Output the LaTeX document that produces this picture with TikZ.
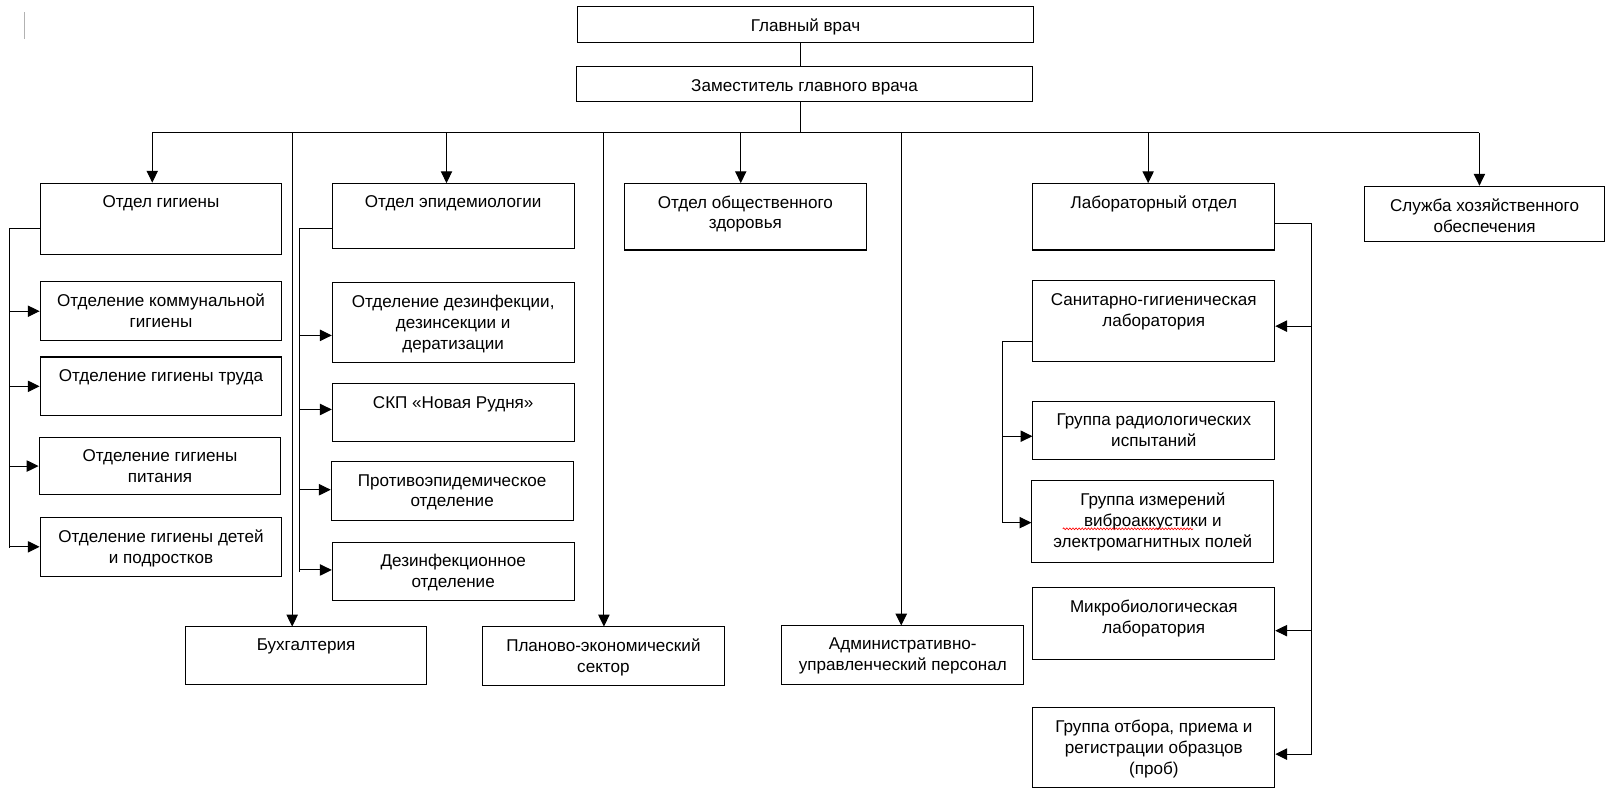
\documentclass[tikz,border=0pt]{standalone}
\usepackage{fontspec}
\setmainfont{Liberation Sans}
\usetikzlibrary{arrows.meta,decorations.pathmorphing}
\tikzset{
  box/.style={draw, line width=1pt, inner sep=0pt, fill=white},
  lbl/.style={anchor=north, align=center, inner sep=0pt, font=\fontsize{16.6}{20.3}\selectfont},
  ln/.style={line width=1pt, black},
  arr/.style={ln, -{Triangle[length=11.5pt,width=11pt]}},
}
\newcommand\obox[6]{%
  \node[box, minimum width={#4-#2}, minimum height={#5-#3}] (#1) at ({(#2+#4)/2},{(#3+#5)/2}) {};
  \node[lbl] (#1t) at ([yshift=-12.3pt]#1.north) {#6};}
\begin{document}
\begin{tikzpicture}[x=1pt,y=-1pt]
\useasboundingbox (0,0) rectangle (1568.8,770.8);
\fill[white] (0,0) rectangle (1568.8,770.8);
\draw[gray!60, line width=0.8pt] (24,12) -- (24,38);
% top
\obox{gv}{561}{6}{1005}{41}{Главный врач}
\obox{zam}{560}{65}{1004}{99}{Заместитель главного врача}
% departments
\obox{og}{39}{178}{274}{247}{Отдел гигиены}
\obox{oe}{323}{178}{558}{242}{Отдел эпидемиологии}
\obox{oz}{607}{178}{842}{243}{Отдел общественного\\здоровья}
\obox{lab}{1004}{178}{1239}{243}{Лабораторный отдел}
\obox{sl}{1326}{181}{1560}{235}{Служба хозяйственного\\обеспечения}
% hygiene
\obox{k1}{39}{274}{274}{331}{Отделение коммунальной\\гигиены}
\obox{k2}{39}{347}{274}{404}{Отделение гигиены труда}
\obox{k3}{38}{425}{273}{481}{Отделение гигиены\\питания}
\obox{k4}{39}{503}{274}{560}{Отделение гигиены детей\\и подростков}
% epidemiology
\obox{e1}{323}{275}{558}{352}{Отделение дезинфекции,\\дезинсекции и\\дератизации}
\obox{e2}{323}{373}{558}{429}{СКП «Новая Рудня»}
\obox{e3}{322}{449}{557}{506}{Противоэпидемическое\\отделение}
\obox{e4}{323}{527}{558}{584}{Дезинфекционное\\отделение}
% bottom
\obox{bu}{180}{609}{415}{665}{Бухгалтерия}
\obox{pl}{469}{609}{704}{666}{Планово-экономический\\сектор}
\obox{ad}{760}{608}{995}{665}{Административно-\\управленческий персонал}
% lab
\obox{sg}{1004}{273}{1239}{351}{Санитарно-гигиеническая\\лаборатория}
\obox{rg}{1004}{390}{1239}{447}{Группа радиологических\\испытаний}
\obox{vm}{1003}{467}{1238}{547}{Группа измерений\\виброаккустики и\\электромагнитных полей}
\obox{mb}{1004}{571}{1239}{641}{Микробиологическая\\лаборатория}
\obox{go}{1004}{688}{1239}{765}{Группа отбора, приема и\\регистрации образцов\\(проб)}
\draw[red, line width=0.6pt, decorate, decoration={snake, amplitude=0.9pt, segment length=3pt}] (1033,514) -- (1160,514);
% top connectors
\coordinate (bus) at (778,129);
\coordinate (busL) at (148,129);
\coordinate (busR) at (1438,129);
\draw[ln] (gv.south -| bus) -- (zam.north -| bus);
\draw[ln] (zam.south -| bus) -- (bus);
\draw[ln] (busL) -- (busR);
\draw[arr] (busL) -- (busL |- og.north);
\draw[arr] (434,129) -- (434,178);
\draw[arr] (720,129) -- (720,178);
\draw[arr] (1116,129) -- (1116,178);
\draw[arr] (busR) -- (busR |- sl.north);
\draw[arr] (284,129) -- (284,609);
\draw[arr] (587,129) -- (587,609);
\draw[arr] (876,129) -- (876,608);
% hygiene branch
\coordinate (sh) at (9,222);
\draw[ln] (og.west |- sh) -- (sh) -- (9,533);
\foreach \n in {k1,k2,k3,k4} \draw[arr] (\n.west -| sh) -- (\n.west);
% epidemiology branch
\coordinate (se) at (291,222);
\draw[ln] (oe.west |- se) -- (se) -- (291,556);
\draw[arr] (291,326) -- (e1.west |- 0,326);
\draw[arr] (291,398) -- (e2.west |- 0,398);
\draw[arr] (291,476) -- (e3.west |- 0,476);
\draw[arr] (291,554) -- (e4.west |- 0,554);
% lab right branch
\coordinate (sr) at (1275,217);
\draw[ln] (lab.east |- sr) -- (sr) -- (1275,733);
\draw[arr] (1275,317) -- (sg.east |- 0,317);
\draw[arr] (1275,613) -- (mb.east |- 0,613);
\draw[arr] (1275,733) -- (go.east |- 0,733);
% lab inner branch
\coordinate (si) at (974,332);
\draw[ln] (sg.west |- si) -- (si) -- (974,508);
\draw[arr] (974,424) -- (rg.west |- 0,424);
\draw[arr] (974,508) -- (vm.west |- 0,508);
\end{tikzpicture}
\end{document}
